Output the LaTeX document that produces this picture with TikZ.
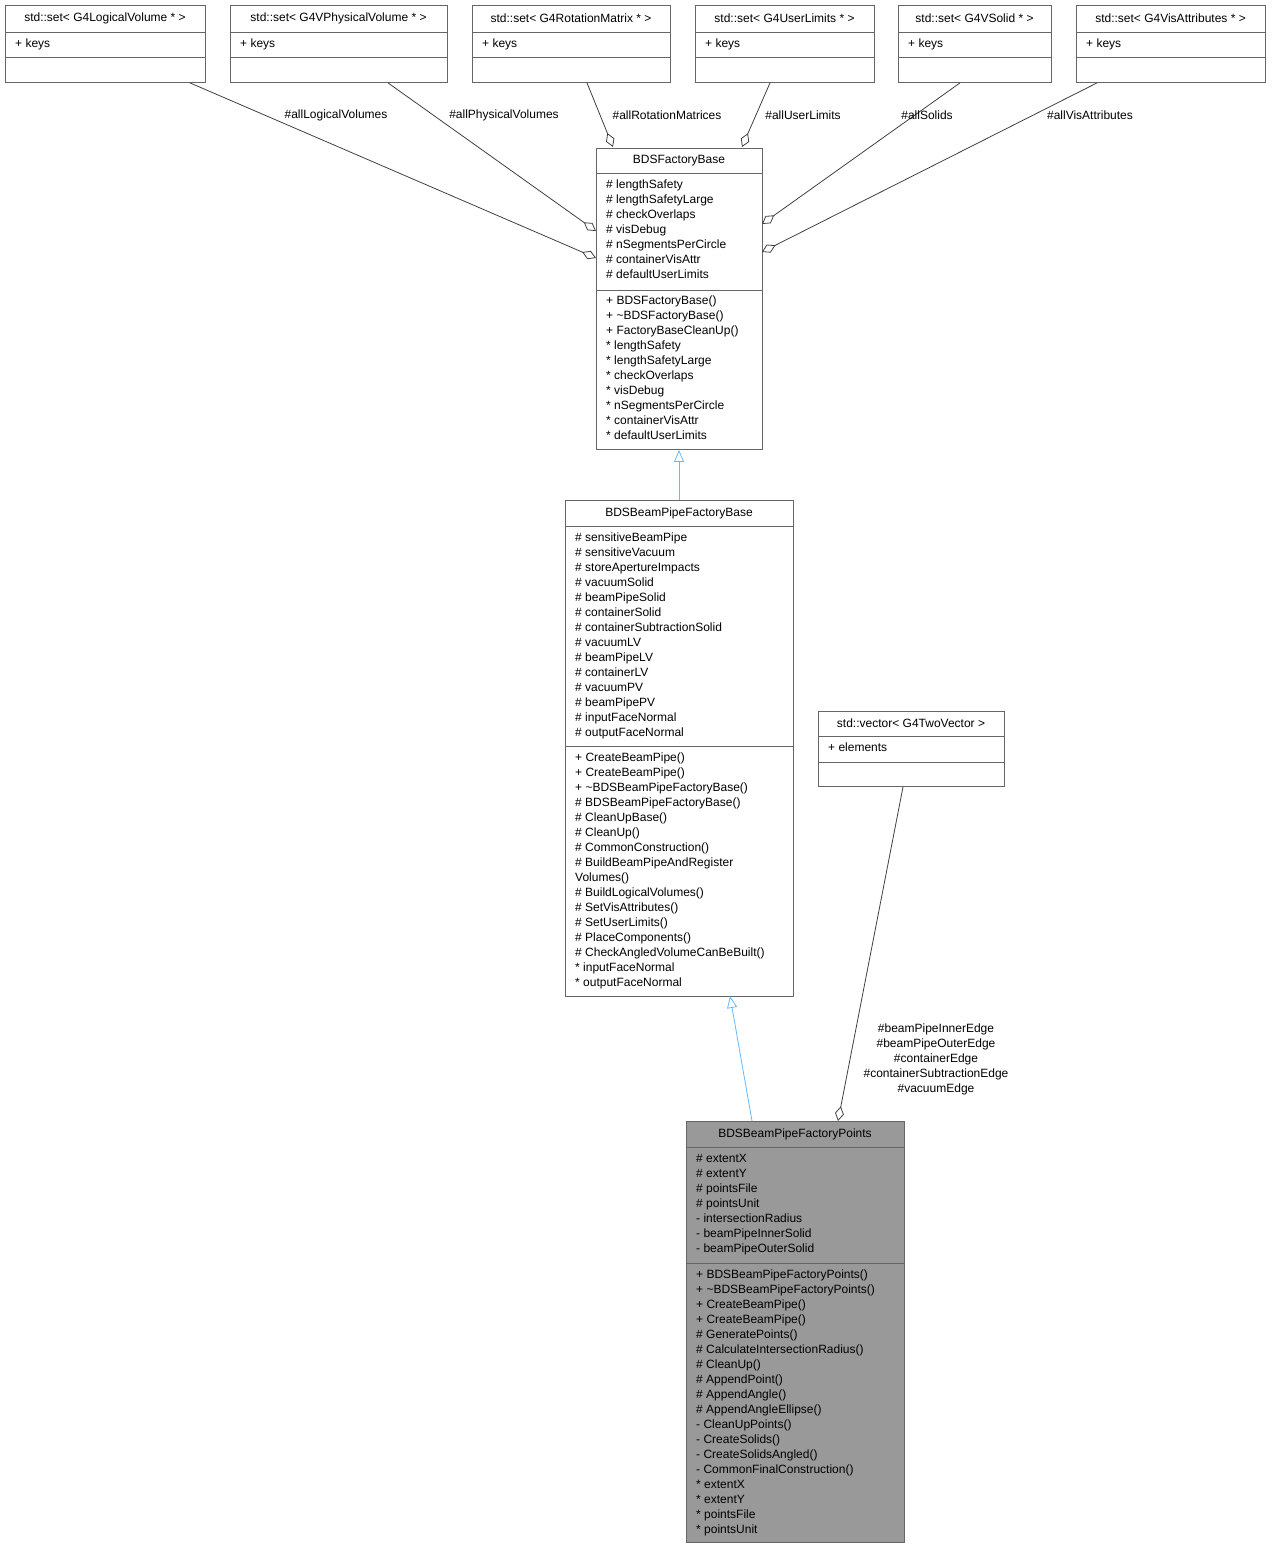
\documentclass[tikz,border=0pt]{standalone}
\usepackage{fontspec}
\setmainfont{Liberation Sans}
\usetikzlibrary{arrows.meta}
\definecolor{edgec}{HTML}{404040}
\definecolor{inhc}{HTML}{63B8FF}
\definecolor{boxc}{HTML}{666666}
\tikzset{
  boxr/.style={draw=boxc,line width=0.9pt,inner sep=0},
  ttl/.style={inner sep=0,font=\fontsize{12}{15}\selectfont},
  lines/.style={inner sep=0,anchor=north west,align=left,font=\fontsize{12}{15}\selectfont},
  agg/.style={draw=edgec,line width=0.8pt,{Diamond[open,length=15pt,width=9pt]}-},
  inh/.style={draw=inhc,line width=0.8pt,{Triangle[open,length=12pt,width=10pt]}-},
  elab/.style={inner sep=0,font=\fontsize{12}{15}\selectfont,fill=white,fill opacity=0,text opacity=1}
}
% #1 name #2 x1 #3 y1 #4 x2 #5 y2 #6 sep1 #7 sep2 #8 title #9 fill
\newcommand\clsbox[9]{%
  \node[boxr,fill=#9,minimum width=#4-#2,minimum height=#5-#3,anchor=north west] (#1) at (#2,#3) {};
  \draw[boxc,line width=0.9pt] (#2,#6) -- (#4,#6);
  \draw[boxc,line width=0.9pt] (#2,#7) -- (#4,#7);
  \node[ttl] (#1-t) at ({(#2+#4)/2},{(#3+#6)/2}) {#8};
}
\newcommand\clstext[4]{\node[lines] (#1) at (#2,#3) {#4};}
\begin{document}
\begin{tikzpicture}[x=1pt,y=-1pt]
\useasboundingbox (0,0) rectangle (1271,1549);
% top boxes
\clsbox{s1}{5}{5}{205}{82}{32}{57}{std::set< G4LogicalVolume * >}{white}
\clsbox{s2}{230}{5}{447}{82}{32}{57}{std::set< G4VPhysicalVolume * >}{white}
\clsbox{s3}{472}{5}{670}{82}{32}{57}{std::set< G4RotationMatrix * >}{white}
\clsbox{s4}{695}{5}{874}{82}{32}{57}{std::set< G4UserLimits * >}{white}
\clsbox{s5}{898}{5}{1051}{82}{32}{57}{std::set< G4VSolid * >}{white}
\clsbox{s6}{1076}{5}{1265}{82}{32}{57}{std::set< G4VisAttributes * >}{white}
\foreach \n/\x in {k1/15,k2/240,k3/482,k4/705,k5/908,k6/1086}{
  \clstext{\n}{\x}{37}{\strut+ keys}
}
% BDSFactoryBase
\clsbox{fb}{596}{148}{762}{449}{173}{290}{BDSFactoryBase}{white}
\clstext{fba}{606}{178}{\strut\# lengthSafety\\\strut\# lengthSafetyLarge\\\strut\# checkOverlaps\\\strut\# visDebug\\\strut\# nSegmentsPerCircle\\\strut\# containerVisAttr\\\strut\# defaultUserLimits}
\clstext{fbm}{606}{294}{\strut+ BDSFactoryBase()\\\strut+ \textasciitilde BDSFactoryBase()\\\strut+ FactoryBaseCleanUp()\\\strut* lengthSafety\\\strut* lengthSafetyLarge\\\strut* checkOverlaps\\\strut* visDebug\\\strut* nSegmentsPerCircle\\\strut* containerVisAttr\\\strut* defaultUserLimits}
% BDSBeamPipeFactoryBase
\clsbox{pb}{565}{500}{793}{996}{526}{746}{BDSBeamPipeFactoryBase}{white}
\clstext{pba}{575}{531}{\strut\# sensitiveBeamPipe\\\strut\# sensitiveVacuum\\\strut\# storeApertureImpacts\\\strut\# vacuumSolid\\\strut\# beamPipeSolid\\\strut\# containerSolid\\\strut\# containerSubtractionSolid\\\strut\# vacuumLV\\\strut\# beamPipeLV\\\strut\# containerLV\\\strut\# vacuumPV\\\strut\# beamPipePV\\\strut\# inputFaceNormal\\\strut\# outputFaceNormal}
\clstext{pbm}{575}{751}{\strut+ CreateBeamPipe()\\\strut+ CreateBeamPipe()\\\strut+ \textasciitilde BDSBeamPipeFactoryBase()\\\strut\# BDSBeamPipeFactoryBase()\\\strut\# CleanUpBase()\\\strut\# CleanUp()\\\strut\# CommonConstruction()\\\strut\# BuildBeamPipeAndRegister\\\strut Volumes()\\\strut\# BuildLogicalVolumes()\\\strut\# SetVisAttributes()\\\strut\# SetUserLimits()\\\strut\# PlaceComponents()\\\strut\# CheckAngledVolumeCanBeBuilt()\\\strut* inputFaceNormal\\\strut* outputFaceNormal}
% vector
\clsbox{vec}{818}{711}{1004}{786}{736}{762}{std::vector< G4TwoVector >}{white}
\clstext{veca}{828}{741}{\strut+ elements}
% Points
\clsbox{pp}{686}{1121}{904}{1542}{1147}{1263}{BDSBeamPipeFactoryPoints}{black!40}
\clstext{ppa}{696}{1152}{\strut\# extentX\\\strut\# extentY\\\strut\# pointsFile\\\strut\# pointsUnit\\\strut- intersectionRadius\\\strut- beamPipeInnerSolid\\\strut- beamPipeOuterSolid}
\clstext{ppm}{696}{1268}{\strut+ BDSBeamPipeFactoryPoints()\\\strut+ \textasciitilde BDSBeamPipeFactoryPoints()\\\strut+ CreateBeamPipe()\\\strut+ CreateBeamPipe()\\\strut\# GeneratePoints()\\\strut\# CalculateIntersectionRadius()\\\strut\# CleanUp()\\\strut\# AppendPoint()\\\strut\# AppendAngle()\\\strut\# AppendAngleEllipse()\\\strut- CleanUpPoints()\\\strut- CreateSolids()\\\strut- CreateSolidsAngled()\\\strut- CommonFinalConstruction()\\\strut* extentX\\\strut* extentY\\\strut* pointsFile\\\strut* pointsUnit}
% aggregation edges
\coordinate (d1) at (596,258);
\coordinate (d2) at (596,231);
\coordinate (d3) at (613,147);
\coordinate (d4) at (742,147);
\coordinate (d5) at (762,224);
\coordinate (d6) at (762,252);
\draw[agg] (d1) -- (s1.south -| 190,0);
\draw[agg] (d2) -- (s2.south -| 388,0);
\draw[agg] (d3) -- (s3.south -| 587,0);
\draw[agg] (d4) -- (s4.south -| 770,0);
\draw[agg] (d5) -- (s5.south -| 960,0);
\draw[agg] (d6) -- (s6.south -| 1097,0);
\node[elab] (l1) at (336,115) {\#allLogicalVolumes};
\node[elab] (l2) at (504,115) {\#allPhysicalVolumes};
\node[elab] (l3) at (667,115) {\#allRotationMatrices};
\node[elab] (l4) at (803,115) {\#allUserLimits};
\node[elab] (l5) at (927,115) {\#allSolids};
\node[elab] (l6) at (1090,115) {\#allVisAttributes};
% vector aggregation
\coordinate (d7) at (838,1121);
\draw[agg] (d7) -- (vec.south -| 903,0);
\node[elab,align=center] (l7) at (936,1059) {\#beamPipeInnerEdge\\\#beamPipeOuterEdge\\\#containerEdge\\\#containerSubtractionEdge\\\#vacuumEdge};
% inheritance
\draw[inh] (fb.south -| 679,0) -- (pb.north -| 679,0);
\coordinate (i2) at (730,996);
\draw[inh] (i2) -- (pp.north -| 752,0);
\end{tikzpicture}
\end{document}
